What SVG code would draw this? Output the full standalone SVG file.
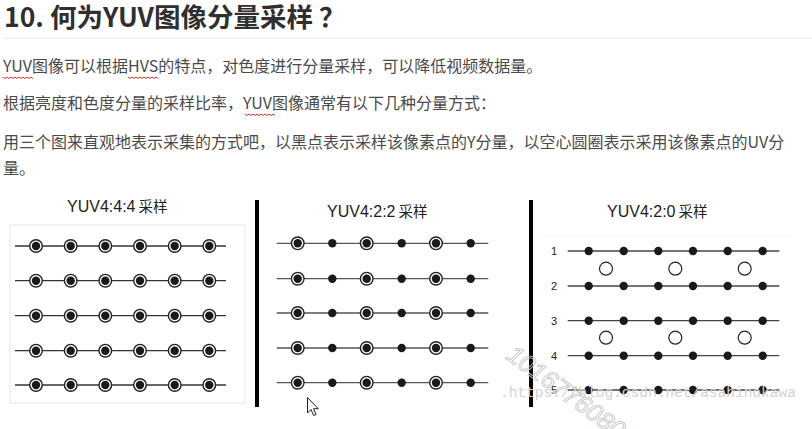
<svg xmlns="http://www.w3.org/2000/svg" xmlns:xlink="http://www.w3.org/1999/xlink" width="812" height="429" viewBox="0 0 812 429">
<style>
.h{font-family:"Noto Sans CJK SC","Liberation Sans",sans-serif;font-weight:bold;font-size:26.5px;fill:#2f2f2f}
.p{font-family:"Noto Sans CJK SC","Liberation Sans",sans-serif;font-size:16px;fill:#4a4a4a}
.t{font-family:"Liberation Sans","Noto Sans CJK SC",sans-serif;font-size:16px;fill:#222}
.tc{font-family:"Noto Sans CJK SC",sans-serif;font-size:14.5px;fill:#222}
.n{font-family:"Liberation Sans",sans-serif;font-size:11px;fill:#222;text-anchor:middle}
.row{stroke:#333;stroke-width:1.3}
.row2{stroke:#555;stroke-width:1.3}
.row3{stroke:#444;stroke-width:1.3}
.wavy{fill:none;stroke:#e02a2a;stroke-width:1}
.bar{fill:#000}
.wm{font-family:"Liberation Sans",sans-serif;font-style:italic;font-size:25px;fill:none;stroke:#c4c4c4;stroke-width:0.8}
.url{font-family:"Liberation Mono",monospace;font-size:14.5px;fill:#d2d2d2}
</style>
<defs>
<g id="yuv"><circle r="6.3" fill="#fff" stroke="#222" stroke-width="1.4"/><circle r="4.2" fill="#1a1a1a"/></g>
<circle id="yd" r="4.2" fill="#1a1a1a"/>
<circle id="uv" r="6.5" fill="#fff" stroke="#222" stroke-width="1.2"/>
<g id="r1"><line x1="15" y1="0" x2="226" y2="0" class="row"/><use xlink:href="#yuv" x="36"/><use xlink:href="#yuv" x="70.7"/><use xlink:href="#yuv" x="105.3"/><use xlink:href="#yuv" x="140"/><use xlink:href="#yuv" x="174.7"/><use xlink:href="#yuv" x="209.3"/></g>
<g id="r2"><line x1="276.7" y1="0" x2="488.3" y2="0" class="row2"/><use xlink:href="#yuv" x="297.7"/><use xlink:href="#yd" x="332.3"/><use xlink:href="#yuv" x="366.7"/><use xlink:href="#yd" x="401.7"/><use xlink:href="#yuv" x="436"/><use xlink:href="#yd" x="470.7"/></g>
<g id="r3"><line x1="567.7" y1="0" x2="779.3" y2="0" class="row3"/><use xlink:href="#yd" x="588.7"/><use xlink:href="#yd" x="623.7"/><use xlink:href="#yd" x="658.3"/><use xlink:href="#yd" x="693"/><use xlink:href="#yd" x="727.7"/><use xlink:href="#yd" x="762.7"/></g>
</defs>
<rect width="812" height="429" fill="#fff"/>

<g id="heading">
<text class="h" x="4" y="27">10. 何为YUV图像分量采样 ？</text>
<line x1="3" y1="38.5" x2="812" y2="38.5" stroke="#ececec" stroke-width="1.2"/>
</g>

<g id="paragraphs">
<text class="p" x="3" y="72">YUV图像可以根据HVS的特点，对色度进行分量采样，可以降低视频数据量。</text>
<text class="p" x="3" y="109">根据亮度和色度分量的采样比率，YUV图像通常有以下几种分量方式：</text>
<text class="p" x="3" y="148">用三个图来直观地表示采集的方式吧，以黑点表示采样该像素点的Y分量，以空心圆圈表示采用该像素点的UV分</text>
<text class="p" x="3" y="174">量。</text>
<path class="wavy" d="M3,77 l2,1.5 l2,-1.5 l2,1.5 l2,-1.5 l2,1.5 l2,-1.5 l2,1.5 l2,-1.5 l2,1.5 l2,-1.5 l2,1.5 l2,-1.5 l2,1.5 l2,-1.5 l2,1.5"/>
<path class="wavy" d="M128,77 l2,1.5 l2,-1.5 l2,1.5 l2,-1.5 l2,1.5 l2,-1.5 l2,1.5 l2,-1.5 l2,1.5 l2,-1.5 l2,1.5 l2,-1.5 l2,1.5 l2,-1.5 l2,1.5"/>
<path class="wavy" d="M245,114 l2,1.5 l2,-1.5 l2,1.5 l2,-1.5 l2,1.5 l2,-1.5 l2,1.5 l2,-1.5 l2,1.5 l2,-1.5 l2,1.5 l2,-1.5 l2,1.5 l2,-1.5 l2,1.5"/>
</g>

<g id="panel-444">
<rect x="10" y="225" width="235" height="178" fill="none" stroke="#f1f2f8" stroke-width="2"/>
<text x="67" y="212"><tspan class="t">YUV4:4:4</tspan><tspan class="tc" dx="3">采样</tspan></text>
<use xlink:href="#r1" y="246"/>
<use xlink:href="#r1" y="280.7"/>
<use xlink:href="#r1" y="315.7"/>
<use xlink:href="#r1" y="350.7"/>
<use xlink:href="#r1" y="385"/>
</g>

<rect class="bar" x="255" y="200" width="4" height="207"/>

<g id="panel-422">
<text x="327" y="216.5"><tspan class="t">YUV4:2:2</tspan><tspan class="tc" dx="3">采样</tspan></text>
<use xlink:href="#r2" y="243.3"/>
<use xlink:href="#r2" y="278.7"/>
<use xlink:href="#r2" y="313"/>
<use xlink:href="#r2" y="348"/>
<use xlink:href="#r2" y="382.7"/>
</g>

<rect class="bar" x="529" y="200" width="4" height="207"/>

<g id="panel-420">
<line x1="542" y1="236" x2="790" y2="236" stroke="#f4f4f4" stroke-width="1"/>
<text x="607" y="217"><tspan class="t">YUV4:2:0</tspan><tspan class="tc" dx="3">采样</tspan></text>
<use xlink:href="#r3" y="251"/>
<use xlink:href="#r3" y="286"/>
<use xlink:href="#r3" y="320.7"/>
<use xlink:href="#r3" y="355.7"/>
<use xlink:href="#r3" y="390"/>
<text class="n" x="554" y="255">1</text>
<text class="n" x="554" y="290">2</text>
<text class="n" x="554" y="324.7">3</text>
<text class="n" x="554" y="359.7">4</text>
<text class="n" x="554" y="394">5</text>
<use xlink:href="#uv" x="606" y="268.7"/>
<use xlink:href="#uv" x="675.3" y="268.7"/>
<use xlink:href="#uv" x="744.7" y="268.7"/>
<use xlink:href="#uv" x="606" y="337.7"/>
<use xlink:href="#uv" x="675.3" y="337.7"/>
<use xlink:href="#uv" x="744.7" y="337.7"/>
</g>

<g id="watermark">
<text class="url" x="500" y="397">.https://blog.csdn.net/asahinokawa</text>
<text class="wm" transform="translate(505,358) rotate(36)">1016776080</text>
</g>

<path id="cursor" d="M307.5,397.5 L307.5,413 L311,409.5 L313.6,415.5 L316,414.5 L313.5,408.7 L318.3,408.7 Z" fill="#fff" stroke="#222" stroke-width="1"/>
</svg>
